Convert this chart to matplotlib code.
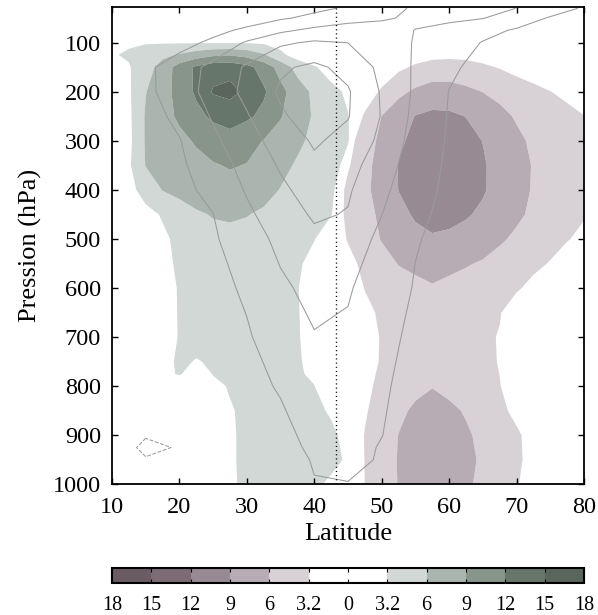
import numpy as np
import matplotlib
matplotlib.use("Agg")
import matplotlib.pyplot as plt
from matplotlib.colors import ListedColormap, BoundaryNorm
import matplotlib.colorbar as mcolorbar

plt.rcParams['font.family'] = ['Liberation Serif', 'DejaVu Serif']

# ---------------- data ----------------
# positive (green) shaded anomaly
green_lat = [10, 12.5, 15, 17.5, 20, 22.5, 25, 27.5, 30, 32.5, 35, 37.5, 40, 42.5, 45, 47.5]
green_p = [75, 100, 125, 150, 200, 250, 300, 350, 400, 450, 500, 550, 600, 700, 750, 775,
           800, 850, 900, 950, 1000]
green_vals = [
    [0.8, 1.0, 1.1, 1.1, 1.1, 1.1, 1.1, 1.1, 1.0, 0.9, 0.7, 0.5, 0.3, 0.1, 0.0, 0.0],
    [2.4, 2.9, 3.0, 3.0, 3.0, 3.0, 3.0, 3.0, 3.0, 2.8, 2.3, 1.8, 1.2, 0.7, 0.3, 0.0],
    [3.0, 3.5, 4.5, 5.3, 6.3, 7.5, 8.5, 8.8, 8.0, 6.3, 3.8, 2.0, 1.0, 0.5, 0.2, 0.0],
    [2.0, 3.0, 4.7, 7.2, 10.3, 12.5, 13.8, 14.0, 12.9, 10.8, 7.8, 5.0, 3.5, 1.8, 0.7, 0.0],
    [1.0, 2.8, 5.9, 7.9, 10.0, 12.5, 15.3, 15.8, 14.4, 12.4, 9.9, 7.4, 5.4, 4.1, 2.7, 1.0],
    [0.8, 2.6, 6.3, 7.9, 9.5, 11.1, 12.6, 13.3, 12.5, 11.3, 9.2, 7.3, 5.7, 4.4, 3.3, 1.5],
    [0.5, 2.5, 6.3, 7.3, 8.3, 9.3, 10.2, 10.8, 9.9, 8.9, 7.8, 6.5, 5.4, 4.3, 3.3, 1.2],
    [0.5, 2.8, 6.1, 6.8, 7.5, 8.2, 8.8, 9.2, 8.9, 7.8, 6.7, 5.7, 4.8, 3.9, 2.6, 0.8],
    [0.8, 2.4, 4.2, 6.1, 6.9, 7.6, 7.9, 8.1, 7.7, 6.9, 5.9, 5.1, 4.3, 3.5, 1.9, 0.5],
    [0.5, 1.6, 2.5, 3.4, 4.5, 5.6, 6.2, 6.3, 6.1, 5.6, 5.0, 4.4, 3.9, 3.3, 1.4, 0.3],
    [0.3, 1.1, 1.8, 2.8, 3.7, 4.5, 5.1, 5.4, 5.2, 5.0, 4.5, 3.9, 3.3, 1.6, 0.3, 0.0],
    [0.2, 0.9, 1.5, 2.7, 3.5, 4.2, 4.8, 4.9, 5.0, 4.8, 4.3, 3.6, 2.3, 0.7, 0.1, 0.0],
    [0.2, 0.8, 1.4, 2.4, 3.35, 4.0, 4.6, 4.7, 4.8, 4.6, 4.05, 3.35, 1.5, 0.4, 0.0, 0.0],
    [0.2, 0.8, 1.4, 2.4, 3.3, 3.8, 4.3, 4.45, 4.6, 4.5, 4.0, 3.45, 1.9, 0.4, 0.0, 0.0],
    [0.3, 0.9, 1.5, 2.6, 3.5, 3.1, 3.4, 3.9, 4.1, 4.2, 3.9, 3.5, 2.4, 0.6, 0.0, 0.0],
    [0.3, 0.9, 1.5, 2.9, 3.3, 2.6, 3.25, 3.7, 3.9, 4.0, 3.75, 3.45, 2.85, 0.8, 0.0, 0.0],
    [0.3, 0.8, 1.3, 1.85, 2.4, 2.6, 2.9, 3.3, 3.7, 3.75, 3.8, 3.5, 3.25, 1.0, 0.1, 0.0],
    [0.3, 0.7, 1.05, 1.45, 1.8, 2.15, 2.5, 3.1, 3.45, 3.7, 3.7, 3.65, 3.5, 3.05, 0.6, 0.0],
    [0.3, 0.7, 1.05, 1.45, 1.8, 2.15, 2.5, 3.05, 3.45, 3.75, 3.8, 3.8, 3.7, 3.45, 2.8, 0.3],
    [0.3, 0.7, 1.05, 1.45, 1.8, 2.15, 2.5, 3.05, 3.45, 3.7, 3.75, 3.75, 3.65, 3.5, 3.05, 0.5],
    [0.3, 0.7, 1.05, 1.45, 1.8, 2.15, 2.5, 3.05, 3.4, 3.6, 3.6, 3.55, 3.4, 3.0, 1.0, 0.2],
]

# negative (purple) shaded anomaly, stored as magnitude
purple_lat = [42.5, 45, 47.5, 50, 52.5, 55, 57.5, 60, 62.5, 65, 67.5, 70, 72.5, 75, 77.5, 80]
purple_p = [100, 125, 150, 200, 250, 300, 350, 400, 450, 500, 550, 600, 650, 700, 750,
            800, 850, 900, 950, 1000]
purple_vals = [
    [0.0, 0.0, 0.2, 0.5, 0.8, 1.2, 1.5, 1.6, 1.5, 1.3, 1.0, 0.8, 0.6, 0.5, 0.4, 0.3],
    [0.0, 0.2, 0.5, 1.0, 1.6, 2.2, 2.6, 2.7, 2.6, 2.3, 1.9, 1.5, 1.2, 0.9, 0.7, 0.5],
    [0.0, 0.4, 0.8, 1.6, 2.7, 3.55, 4.1, 4.2, 4.05, 3.6, 3.05, 2.35, 1.7, 1.3, 0.95, 0.7],
    [0.0, 0.7, 1.9, 3.55, 5.3, 6.5, 7.3, 7.25, 6.6, 5.95, 5.3, 4.6, 3.95, 3.25, 2.6, 2.0],
    [0.0, 1.2, 3.5, 6.05, 7.7, 9.1, 9.6, 9.5, 8.95, 7.85, 6.7, 5.75, 5.1, 4.5, 3.9, 3.25],
    [0.3, 2.3, 4.55, 6.75, 8.6, 9.6, 10.35, 10.5, 9.75, 8.95, 7.75, 6.5, 5.6, 5.0, 4.4, 3.8],
    [0.5, 2.9, 5.1, 7.2, 9.1, 9.95, 10.8, 10.95, 10.1, 9.25, 8.15, 6.9, 5.85, 5.2, 4.6, 4.0],
    [1.0, 3.85, 5.4, 7.15, 9.05, 9.75, 10.55, 10.7, 9.95, 9.25, 8.1, 6.85, 5.8, 5.2, 4.6, 4.0],
    [1.5, 3.8, 5.1, 6.55, 8.3, 9.3, 9.8, 9.75, 9.25, 8.55, 7.5, 6.45, 5.55, 4.85, 4.1, 3.4],
    [1.5, 3.4, 4.75, 6.15, 7.7, 8.35, 8.75, 8.5, 8.1, 7.25, 6.35, 5.55, 4.8, 4.1, 3.35, 2.6],
    [0.5, 2.35, 3.9, 5.05, 6.1, 6.5, 6.9, 6.55, 6.2, 5.75, 5.1, 4.45, 3.8, 3.05, 2.0, 1.2],
    [0.2, 1.5, 3.3, 4.25, 5.05, 5.45, 5.8, 5.45, 5.05, 4.55, 4.05, 3.5, 2.5, 1.15, 0.45, 0.2],
    [0.0, 0.8, 2.5, 3.65, 4.35, 4.65, 4.85, 4.75, 4.55, 4.0, 3.35, 1.85, 0.8, 0.25, 0.1, 0.0],
    [0.0, 0.6, 2.05, 3.4, 4.0, 4.5, 4.65, 4.55, 4.3, 3.7, 3.05, 1.3, 0.6, 0.1, 0.0, 0.0],
    [0.0, 0.6, 2.1, 3.45, 4.3, 4.9, 5.2, 5.0, 4.65, 3.9, 3.05, 1.3, 0.6, 0.1, 0.0, 0.0],
    [0.0, 0.8, 2.6, 3.85, 4.8, 5.4, 5.9, 5.4, 4.85, 4.05, 3.3, 1.65, 0.65, 0.1, 0.0, 0.0],
    [0.0, 1.0, 2.95, 4.3, 5.5, 6.4, 7.0, 6.45, 5.8, 4.8, 3.8, 2.55, 1.15, 0.3, 0.1, 0.0],
    [0.0, 1.4, 3.3, 4.7, 6.05, 6.85, 7.6, 6.95, 6.3, 5.5, 4.55, 3.6, 2.25, 0.95, 0.25, 0.0],
    [0.0, 1.4, 3.25, 4.8, 6.15, 7.0, 7.8, 7.15, 6.5, 5.7, 4.7, 3.7, 2.3, 0.95, 0.25, 0.0],
    [0.0, 1.3, 3.22, 4.75, 6.1, 6.9, 7.6, 7.0, 6.35, 5.5, 4.5, 3.4, 2.0, 0.8, 0.2, 0.0],
]

# line-contoured field (grey lines)
line_lat = [10, 15, 20, 25, 30, 35, 40, 45, 50, 55, 60, 65, 70, 75, 80]
line_p = [30, 50, 75, 100, 150, 200, 250, 300, 350, 400, 450, 500, 600, 700, 800, 900,
          925, 950, 1000]
line_vals = [
    [0, 0.8, 1.5, 2.3, 3, 5.5, 8, 11.1, 16.7, 21.1, 23.9, 23.1, 19.9, 14.4, 9],
    [0, 1, 2, 3, 5, 8.9, 12.3, 15.6, 18.9, 21.6, 22.2, 20.3, 14.9, 9.2, 5],
    [0, 1.5, 3, 7.2, 12, 18.1, 22.5, 26, 23.9, 19.8, 16.4, 12.7, 9, 6, 3],
    [0, 2, 6.5, 12.1, 21.2, 28.5, 31.3, 29.9, 24.7, 19.4, 14.4, 9.6, 6.3, 3.9, 2],
    [2, 8, 14.9, 22.8, 31.3, 38.6, 42, 37.1, 27.6, 18.8, 11.5, 7.3, 4, 2.5, 1],
    [2, 7.7, 15.2, 23.8, 32.6, 41.3, 47, 40.9, 29.1, 18.5, 9.8, 6.4, 3, 1.5, 0],
    [2, 6.5, 12.1, 21, 29.2, 38.7, 44.5, 40.5, 29.5, 17.4, 9.4, 6.2, 3, 1.5, 0],
    [1.5, 5.5, 9.6, 18, 26.2, 34.2, 41.2, 37, 27.8, 16.1, 9, 6, 3, 1.5, 0],
    [1.5, 5, 8.5, 15.1, 23.4, 31, 38.1, 33.4, 24.9, 14.7, 8.6, 5.8, 3, 1.5, 0],
    [1, 4.3, 7.6, 12.4, 20.9, 28.2, 34, 31.1, 22.4, 13.2, 8.3, 5.7, 3, 1.5, 0],
    [1, 4, 7, 9.9, 18.2, 25.3, 31.2, 29.5, 20.1, 11.7, 8, 5.5, 3, 1.5, 0],
    [0.5, 3.3, 6.1, 8.9, 15.3, 22.5, 28, 24, 18.3, 10.5, 7.8, 5.4, 3, 1.5, 0],
    [0.5, 3, 5.4, 7.9, 11, 18.3, 22.8, 20.9, 14.9, 9.4, 7.3, 5.1, 3, 1.5, 0],
    [0.5, 2.7, 4.9, 7.1, 9.3, 13.5, 19.5, 18.5, 12, 8.5, 7, 5, 3, 1.5, 0],
    [0.5, 2.5, 4.4, 6.4, 8.3, 10.5, 13.3, 13.8, 10.8, 7.9, 5, 3.8, 2.5, 1.2, 0],
    [-1, -4.5, -2, 1, 4, 8.5, 11.6, 12.2, 10.1, 7.1, 4, 2.75, 1.5, 0.75, 0],
    [-1, -6.5, -4.5, 0, 3.5, 8.2, 11.0, 12.0, 9.6, 6.5, 3.8, 2.5, 1.4, 0.7, 0],
    [-1, -4.5, -2, 0.5, 3.5, 7, 10.5, 11.5, 9.5, 6.5, 3.8, 2.5, 1.4, 0.7, 0],
    [-0.5, -2, -1, 0.5, 3, 6, 9.7, 9.8, 8, 5.5, 3.5, 2.3, 1.3, 0.6, 0],
]

shade_levels = [3.2, 6, 9, 12, 15, 18]
green_colors = ['#d1d8d5', '#a9b5ae', '#87958a', '#67766b', '#59655d']
purple_colors = ['#d8d1d6', '#b7acb4', '#988a93', '#7c6b75', '#6b5c64']
line_levels = [-5, 10, 20, 30, 40]
ref_lat = 43.2

cbar_levels = [-18, -15, -12, -9, -6, -3.2, 0, 3.2, 6, 9, 12, 15, 18]
cbar_labels = ['18', '15', '12', '9', '6', '3.2', '0', '3.2', '6', '9', '12', '15', '18']

# ---------------- figure ----------------
fig = plt.figure(figsize=(5.98, 6.15), dpi=100)
ax = fig.add_axes([0.1873, 0.2125, 0.7893, 0.7756])

ax.contourf(green_lat, green_p, np.array(green_vals), levels=shade_levels,
            colors=green_colors, antialiased=True)
ax.contourf(purple_lat, purple_p, np.array(purple_vals), levels=shade_levels,
            colors=purple_colors, antialiased=True)
ax.contour(line_lat, line_p, np.array(line_vals), levels=line_levels,
           colors='#9a9a9a', linewidths=0.75,
           linestyles=['dashed' if v < 0 else 'solid' for v in line_levels])
ax.axvline(ref_lat, color='black', lw=1.0, ls=(0, (0.8, 2.2)))

ax.set_xlim(10, 80)
ax.set_ylim(1000, 28)
ax.set_xticks(range(10, 81, 10))
ax.set_yticks(range(100, 1001, 100))
ax.tick_params(direction='in', top=True, right=True, length=4, width=1,
               labelsize=17.5)
ax.tick_params(axis='x', pad=9)
ax.tick_params(axis='y', pad=8)
for s in ax.spines.values():
    s.set_linewidth(1.3)
ax.set_xlabel('Latitude', fontsize=19, labelpad=4)
ax.set_ylabel('Pression (hPa)', fontsize=19, labelpad=8)

# colorbar
cax = fig.add_axes([0.1873, 0.0515, 0.7893, 0.0244])
cb_colors = purple_colors[::-1] + ['white', 'white'] + green_colors
cmap = ListedColormap(cb_colors)
norm = BoundaryNorm(cbar_levels, cmap.N)
cb = mcolorbar.ColorbarBase(cax, cmap=cmap, norm=norm, boundaries=cbar_levels,
                            ticks=cbar_levels, spacing='uniform',
                            orientation='horizontal')
cb.set_ticklabels(cbar_labels)
cax.tick_params(direction='in', length=3, width=0.8, top=True, bottom=True,
                labelsize=14.5, pad=9)
cb.outline.set_linewidth(1.5)

fig.savefig('out.png', dpi=100)
